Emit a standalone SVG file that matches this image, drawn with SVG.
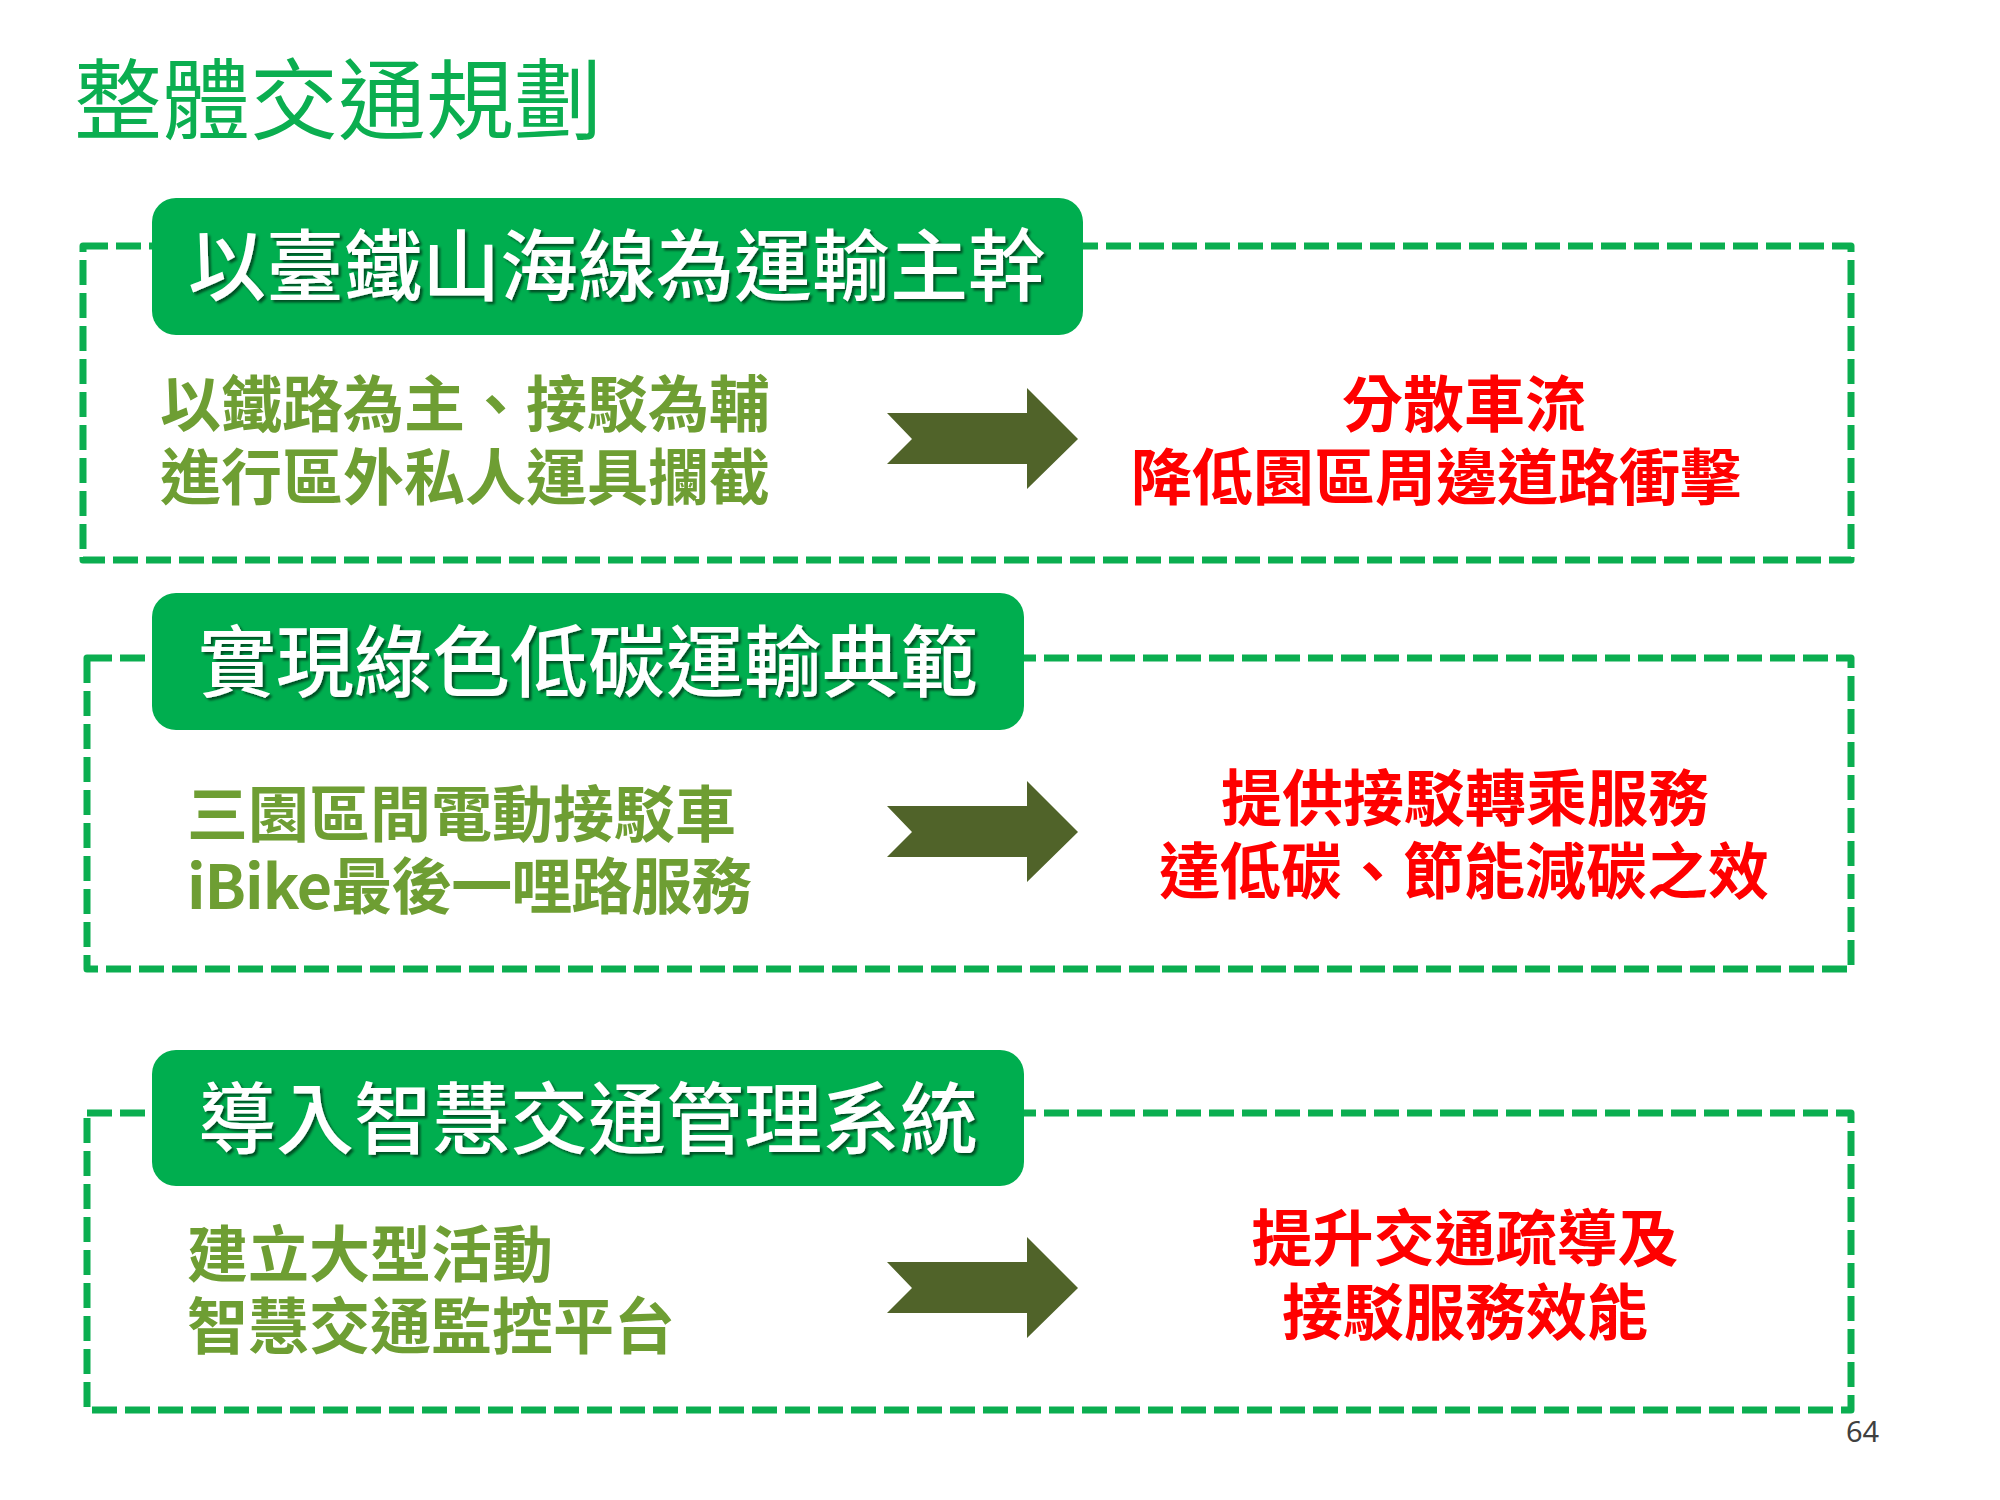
<svg xmlns="http://www.w3.org/2000/svg" width="2000" height="1500" viewBox="0 0 2000 1500">
<defs>
<style>
.frame{fill:none;stroke:#0BAE50;stroke-width:7;stroke-dasharray:25 8;stroke-linejoin:round}
.hdr{fill:#00AE4F}
.hdrtxt{font-family:"Noto Sans CJK TC","Noto Sans CJK SC",sans-serif;font-size:78px;font-weight:500;fill:#FFFFFF;text-anchor:middle}
.lt{font-family:"Noto Sans CJK TC","Noto Sans CJK SC",sans-serif;font-size:61px;font-weight:700;fill:#6E9E33}
.rt{font-family:"Noto Sans CJK TC","Noto Sans CJK SC",sans-serif;font-size:61px;font-weight:700;fill:#FF0000;text-anchor:middle}
.arrow{fill:#506329}
.title{font-family:"Noto Sans CJK TC","Noto Sans CJK SC",sans-serif;font-size:88px;font-weight:400;fill:#0BAE50}
.pg{font-family:"Noto Sans","Liberation Sans",sans-serif;font-size:29px;fill:#404040}
</style>
<filter id="shadow" x="-5%" y="-20%" width="110%" height="140%">
<feDropShadow dx="2.5" dy="2.5" stdDeviation="1.2" flood-color="#000000" flood-opacity="0.55"/>
</filter>
<path id="arr" d="M887,413 L1027,413 L1027,388 L1078,439 L1027,489 L1027,464 L887,464 L912,439 Z"/>
</defs>
<rect width="2000" height="1500" fill="#FFFFFF"/>
<text id="title" class="title" x="74" y="132">整體交通規劃</text>

<g id="frames">
<rect id="frame1" class="frame" x="83" y="246" width="1768" height="314"/>
<rect id="frame2" class="frame" x="87" y="658" width="1764" height="311"/>
<rect id="frame3" class="frame" x="87" y="1113" width="1764" height="297"/>
</g>

<g id="section1">
<rect class="hdr" x="152" y="198" width="931" height="137" rx="24"/>
<text class="hdrtxt" x="617" y="295" filter="url(#shadow)">以臺鐵山海線為運輸主幹</text>
<text class="lt" x="160" y="427">以鐵路為主、接駁為輔</text>
<text class="lt" x="160" y="500">進行區外私人運具攔截</text>
<text class="rt" x="1464" y="427">分散車流</text>
<text class="rt" x="1436" y="500">降低園區周邊道路衝擊</text>
</g>

<g id="section2">
<rect class="hdr" x="152" y="593" width="872" height="137" rx="24"/>
<text class="hdrtxt" x="588" y="691" filter="url(#shadow)">實現綠色低碳運輸典範</text>
<text class="lt" x="187" y="837">三園區間電動接駁車</text>
<text class="lt" x="187" y="909" letter-spacing="-1">iBike最後一哩路服務</text>
<text class="rt" x="1465" y="821">提供接駁轉乘服務</text>
<text class="rt" x="1464" y="894">達低碳、節能減碳之效</text>
</g>

<g id="section3">
<rect class="hdr" x="152" y="1050" width="872" height="136" rx="24"/>
<text class="hdrtxt" x="588" y="1148" filter="url(#shadow)">導入智慧交通管理系統</text>
<text class="lt" x="187" y="1277">建立大型活動</text>
<text class="lt" x="187" y="1349">智慧交通監控平台</text>
<text class="rt" x="1465" y="1261">提升交通疏導及</text>
<text class="rt" x="1465" y="1335">接駁服務效能</text>
</g>

<g id="connectors">
<use href="#arr" class="arrow"/>
<use href="#arr" class="arrow" transform="translate(0,393)"/>
<use href="#arr" class="arrow" transform="translate(0,849)"/>
</g>

<text id="page" class="pg" x="1846" y="1442">64</text>
</svg>
